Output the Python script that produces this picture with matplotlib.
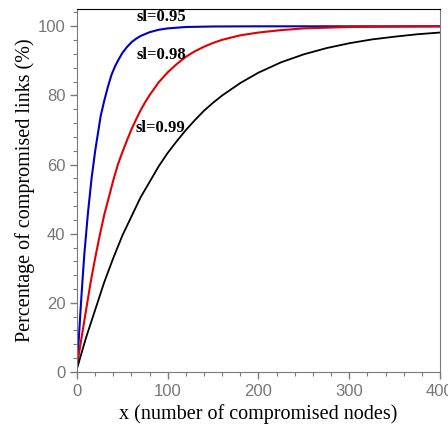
import matplotlib
matplotlib.use("Agg")
import matplotlib.pyplot as plt
from matplotlib.ticker import MultipleLocator

# Values
x_blue = [0, 2, 4, 6, 8, 10, 12, 14, 16, 18, 20, 23, 26, 30, 34, 38, 42, 46, 50, 55, 60, 65, 70, 80, 90,
          100, 120, 150, 200, 250, 300, 400]
y_blue = [2, 10, 18.5, 26.5, 34, 40, 46, 51, 56, 60, 64, 69, 74, 78.5, 82.5, 86, 88.5, 90.5, 92.3, 94,
          95.4, 96.4, 97.2, 98.3, 99, 99.4, 99.8, 99.95, 100, 100, 100, 100]

x_red = [0, 5, 10, 15, 20, 25, 30, 35, 40, 45, 50, 55, 60, 65, 70, 75, 80, 90, 100, 110, 120, 130, 140,
         150, 160, 180, 200, 225, 250, 275, 300, 350, 400]
y_red = [2, 10, 18, 26, 33, 39.5, 45.5, 50.5, 55.5, 60, 63.6, 67, 70.2, 73, 75.7, 78, 80.1, 83.8, 86.7,
         89.1, 91.2, 92.8, 94.1, 95.2, 96.1, 97.4, 98.2, 98.9, 99.4, 99.6, 99.8, 99.9, 100]

x_black = [0, 5, 10, 15, 20, 30, 40, 50, 60, 70, 80, 90, 100, 110, 120, 130, 140, 150, 160, 180, 200,
           225, 250, 275, 300, 325, 350, 375, 400]
y_black = [1, 5.5, 10, 14, 18, 26, 33, 39.5, 45, 50.5, 55, 59.5, 63.4, 66.8, 70, 72.9, 75.6, 77.9, 80,
           83.6, 86.6, 89.6, 91.9, 93.7, 95.1, 96.2, 97, 97.7, 98.2]

labels = ["sl=0.95", "sl=0.98", "sl=0.99"]
label_x = [66, 66, 64]
label_y = [102.6, 91.6, 70.5]

fig = plt.figure(figsize=(4.48, 4.30), dpi=100)
ax = fig.add_axes([0.172, 0.135, 0.81, 0.844])

ax.plot(x_blue, y_blue, color="#0000c8", lw=1.5)
ax.plot(x_red, y_red, color="#e00000", lw=1.5)
ax.plot(x_black, y_black, color="black", lw=1.3)

serif = ["Liberation Serif", "DejaVu Serif"]
for t, lx, ly in zip(labels, label_x, label_y):
    ax.text(lx, ly, t, fontsize=12, fontweight="bold", family=serif,
            va="center", ha="left")

ax.set_xlim(0, 400)
ax.set_ylim(0, 105)
ax.xaxis.set_major_locator(MultipleLocator(100))
ax.xaxis.set_minor_locator(MultipleLocator(20))
ax.yaxis.set_major_locator(MultipleLocator(20))
ax.yaxis.set_minor_locator(MultipleLocator(4))

grey = "#7a7a7a"
for s in ["left", "bottom", "right"]:
    ax.spines[s].set_color(grey)
ax.spines["top"].set_color("black")
ax.tick_params(axis="both", which="major", colors=grey, labelcolor="#777777",
               length=5, width=1, labelsize=12)
ax.tick_params(axis="both", which="minor", colors=grey, length=3, width=0.8)
for lab in ax.get_xticklabels() + ax.get_yticklabels():
    lab.set_family(["Liberation Sans", "DejaVu Sans"])

ax.set_xlabel("x (number of compromised nodes)", family=serif, fontsize=14.5, labelpad=4)
ax.set_ylabel("Percentage of compromised links (%)", family=serif, fontsize=14.5, labelpad=2)

fig.savefig("out.png", dpi=100)
